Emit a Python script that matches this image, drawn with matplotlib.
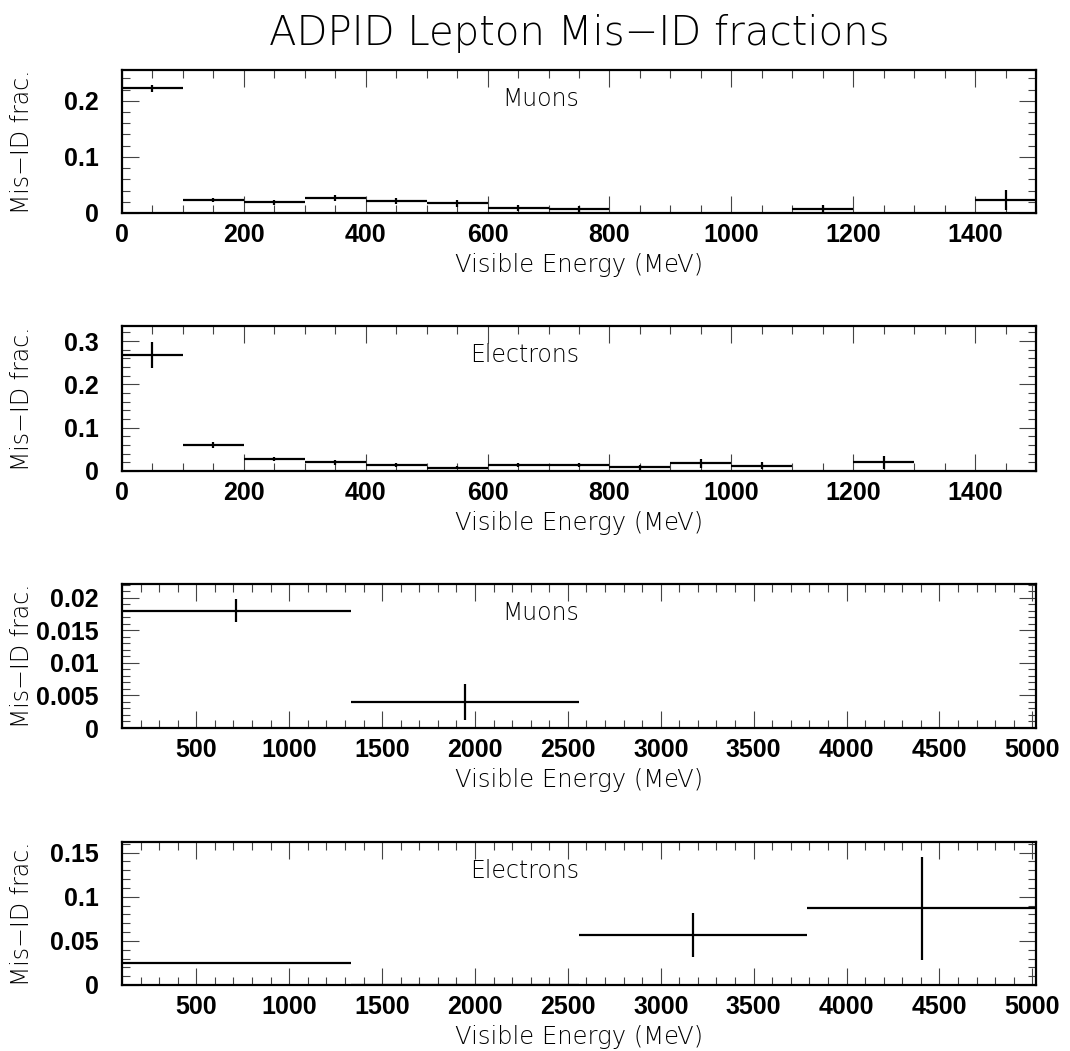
import numpy as np
import matplotlib
matplotlib.use("Agg")
import matplotlib.pyplot as plt
from matplotlib.ticker import MultipleLocator

# low energy binning: 0-1500 MeV in 100 MeV bins
lo_edges = np.arange(0, 1501, 100)
mu_lo = [0.2221, 0.0233, 0.0191, 0.0269, 0.0215, 0.0173, 0.0084, 0.0070,
         0, 0, 0, 0.0072, 0, 0, 0.0233]
mu_lo_err = [0.0066, 0.0042, 0.0042, 0.0050, 0.0057, 0.0060, 0.0054, 0.0054,
             0, 0, 0, 0.0078, 0, 0, 0.0176]
el_lo = [0.269, 0.060, 0.0285, 0.020, 0.0138, 0.0077, 0.0138, 0.0138,
         0.0085, 0.0177, 0.0123, 0, 0.020, 0, 0]
el_lo_err = [0.030, 0.0073, 0.005, 0.005, 0.005, 0.004, 0.005, 0.005,
             0.006, 0.010, 0.0085, 0, 0.015, 0, 0]

# high energy binning: 100-5020 MeV in 4 bins
hi_edges = [100, 1330, 2560, 3790, 5020]
mu_hi = [0.0180, 0.0040, 0, 0]
mu_hi_err = [0.00177, 0.00275, 0, 0]
el_hi = [0.0246, 0.0005, 0.0568, 0.0867]
el_hi_err = [0.0010, 0.0005, 0.0246, 0.0587]

W, H = 1070, 1051
fig = plt.figure(figsize=(W / 100, H / 100), dpi=100)

thin = dict(family="DejaVu Sans", fontweight="ultralight", color="black")
bold = "Liberation Sans"

panels = [
    (lo_edges, mu_lo, mu_lo_err, "Muons", 0.255, 0.1, 0.02, 200, 50, (70, 213)),
    (lo_edges, el_lo, el_lo_err, "Electrons", 0.335, 0.1, 0.02, 200, 50, (326, 471)),
    (hi_edges, mu_hi, mu_hi_err, "Muons", 0.0221, 0.005, 0.001, 500, 100, (584, 728)),
    (hi_edges, el_hi, el_hi_err, "Electrons", 0.162, 0.05, 0.01, 500, 100, (842, 985)),
]

left, right = 122, 1036
for edges, vals, errs, name, ytop, ymaj, ymin, xmaj, xmin, (top, bot) in panels:
    ax = fig.add_axes([left / W, 1 - bot / H, (right - left) / W, (bot - top) / H])
    edges = np.asarray(edges, dtype=float)
    vals = np.asarray(vals)
    errs = np.asarray(errs)
    centers = 0.5 * (edges[:-1] + edges[1:])
    half = 0.5 * np.diff(edges)
    keep = vals > 0
    ax.errorbar(centers[keep], vals[keep], xerr=half[keep], yerr=errs[keep],
                fmt="none", ecolor="black", elinewidth=1.6, capsize=0)
    ax.set_xlim(edges[0], edges[-1])
    ax.set_ylim(0, ytop)
    ax.xaxis.set_major_locator(MultipleLocator(xmaj))
    ax.xaxis.set_minor_locator(MultipleLocator(xmin))
    ax.yaxis.set_major_locator(MultipleLocator(ymaj))
    ax.yaxis.set_minor_locator(MultipleLocator(ymin))
    ax.yaxis.set_major_formatter(plt.FuncFormatter(lambda v, p: f"{v:g}"))
    ax.tick_params(which="both", direction="in", top=True, right=True,
                   color="#444444", width=0.8)
    ax.tick_params(which="major", length=12)
    ax.tick_params(which="minor", length=6)
    ax.tick_params(axis="x", pad=7)
    ax.tick_params(axis="y", pad=17)
    for lab in ax.get_xticklabels() + ax.get_yticklabels():
        lab.set_fontfamily(bold)
        lab.set_fontweight("bold")
        lab.set_fontsize(18)
    for s in ax.spines.values():
        s.set_linewidth(1.6)
    ax.text(0.5, 0.80, name, transform=ax.transAxes, ha="right", va="center",
            fontsize=17, **thin)
    fig.text((left + right) / 2 / W, 1 - (bot + 52) / H, "Visible Energy (MeV)",
             ha="center", va="center", fontsize=17.5, **thin)
    fig.text(22 / W, 1 - (top + bot) / 2 / H, "Mis\u2212ID frac.", rotation=90,
             ha="center", va="center", fontsize=17, **thin)

fig.text(579 / W, 1 - 33 / H, "ADPID Lepton Mis\u2212ID fractions",
         ha="center", va="center", fontsize=29, **thin)

fig.savefig("out.png", dpi=100)
